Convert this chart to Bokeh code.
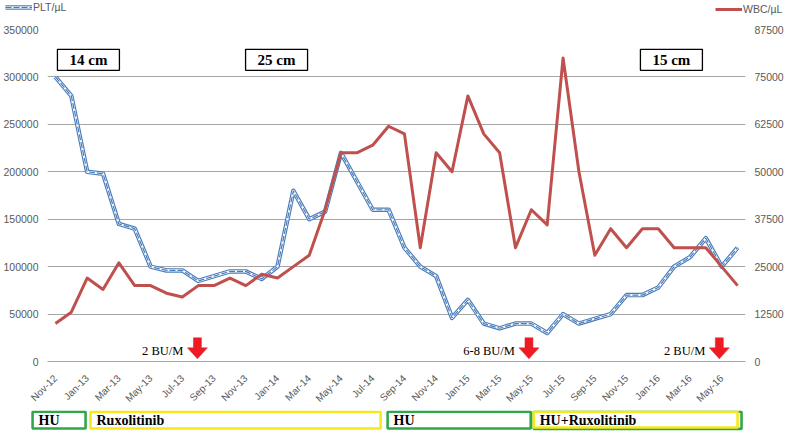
import math
from bokeh.plotting import figure
from bokeh.models import (Range1d, LinearAxis, FixedTicker, NumeralTickFormatter,
                          Legend, LegendItem, ColumnDataSource)
from bokeh.layouts import column, row
from bokeh.embed import file_html
from bokeh.resources import INLINE
from bokeh.core.properties import value

# ---------------- data ----------------
months = ["Nov-12", "Dec-12",
          "Jan-13", "Feb-13", "Mar-13", "Apr-13", "May-13", "Jun-13",
          "Jul-13", "Aug-13", "Sep-13", "Oct-13", "Nov-13", "Dec-13",
          "Jan-14", "Feb-14", "Mar-14", "Apr-14", "May-14", "Jun-14",
          "Jul-14", "Aug-14", "Sep-14", "Oct-14", "Nov-14", "Dec-14",
          "Jan-15", "Feb-15", "Mar-15", "Apr-15", "May-15", "Jun-15",
          "Jul-15", "Aug-15", "Sep-15", "Oct-15", "Nov-15", "Dec-15",
          "Jan-16", "Feb-16", "Mar-16", "Apr-16", "May-16", "Jun-16"]

plt_values = [300000, 280000, 200000, 198000, 145000, 140000, 100000, 96000,
              96000, 85000, 90000, 95000, 95000, 87000, 100000, 180000,
              150000, 158000, 220000, 190000, 160000, 160000, 120000, 100000,
              90000, 46000, 65000, 40000, 35000, 40000, 40000, 30000,
              50000, 40000, 45000, 50000, 70000, 70000, 78000, 100000,
              110000, 130000, 100000, 120000]

wbc_values = [10000, 13000, 22000, 19000, 26000, 20000, 20000, 18000,
              17000, 20000, 20000, 22000, 20000, 23000, 22000, 25000,
              28000, 40000, 55000, 55000, 57000, 62000, 60000, 30000,
              55000, 50000, 70000, 60000, 55000, 30000, 40000, 36000,
              80000, 50000, 28000, 35000, 30000, 35000, 35000, 30000,
              30000, 30000, 25000, 20000]

plt_ticks = [0, 50000, 100000, 150000, 200000, 250000, 300000, 350000]
wbc_ticks = [0, 12500, 25000, 37500, 50000, 62500, 75000, 87500]

series_names = ["PLT/µL", "WBC/µL"]

size_labels = ["14 cm", "25 cm", "15 cm"]
size_label_at = [2.08, 13.94, 38.83]          # position along the month axis
size_label_level = 318000                     # PLT-axis level

dose_labels = ["2 BU/M", "6-8 BU/M", "2 BU/M"]
dose_at = [8.95, 29.85, 41.85]                # month-axis position of arrows

treatments = ["HU", "Ruxolitinib", "HU", "HU+Ruxolitinib"]
treat_start = [-1.44, 2.21, 20.94, 30.15]
treat_end = [1.90, 20.50, 29.96, 43.00]

# ---------------- layout constants ----------------
W = 787
H_TOP, H_STRIP = 22, 23
FL, FR, FT, FH, FB = 47, 42, 7, 333, 48
H_MAIN = FT + FH + FB
GRID = "#a6a6a6"
TXT = "#595959"
BLUE = "#4A7DBA"
RED = "#C0504D"
ARROW_RED = "#ED1C24"
GREEN = "#2EA94A"
YELLOW = "#F7E81E"
treat_colors = [GREEN, YELLOW, GREEN, YELLOW]

x = list(range(len(months)))
x_lo, x_hi = -0.5, len(months) - 0.5
pxx = (W - FL - FR) / (x_hi - x_lo)          # px per month

blue_styles = [dict(line_color=BLUE, line_width=4.5, line_join="round"),
               dict(line_color="white", line_width=2.2, line_join="round"),
               dict(line_color=BLUE, line_width=1.2, line_dash="6 2")]
red_style = dict(line_color=RED, line_width=3, line_join="round")

# ---------------- legend strip (top) ----------------
t = figure(width=W, height=H_TOP, x_range=Range1d(0, 1), y_range=Range1d(0, 1),
           x_axis_location=None, y_axis_location=None, toolbar_location=None,
           output_backend="svg", min_border=0,
           background_fill_color="white", border_fill_color="white")
t.outline_line_color = None
t.grid.visible = False
off = [-5, -5]   # legend-sample renderers kept outside the visible range
lb = [t.line(x=off, y=off, **st) for st in blue_styles]
lr = t.line(x=off, y=off, **red_style)
leg_common = dict(background_fill_alpha=0, border_line_alpha=0,
                  label_text_font="Liberation Sans", label_text_font_size="10.5px",
                  label_text_color=TXT, padding=0, margin=0, label_height=12,
                  glyph_height=12, label_standoff=1, spacing=0, glyph_width=27)
leg1 = Legend(items=[LegendItem(label=series_names[0], renderers=lb)],
              location=(5, H_TOP - 13), **leg_common)
leg2 = Legend(items=[LegendItem(label=series_names[1], renderers=[lr])],
              location=(715, H_TOP - 15), **leg_common)
t.add_layout(leg1, "center")
t.add_layout(leg2, "center")

# ---------------- main chart ----------------
p = figure(width=W, height=H_MAIN, x_range=Range1d(x_lo, x_hi),
           y_range=Range1d(0, 350000), output_backend="svg",
           toolbar_location=None, min_border_left=FL, min_border_right=FR,
           min_border_top=FT, min_border_bottom=FB,
           background_fill_color="white", border_fill_color="white")
p.outline_line_color = None
p.extra_y_ranges = {"wbc": Range1d(0, 87500)}


def style(ax, standoff, size="10.5px"):
    ax.axis_line_color = None
    ax.major_tick_line_color = None
    ax.minor_tick_line_color = None
    ax.major_tick_out = 0
    ax.major_tick_in = 0
    ax.minor_tick_out = 0
    ax.major_label_text_font = "Liberation Sans"
    ax.major_label_text_font_size = size
    ax.major_label_text_color = TXT
    ax.major_label_standoff = standoff


yl = p.yaxis[0]
yl.ticker = FixedTicker(ticks=plt_ticks)
yl.formatter = NumeralTickFormatter(format="0")
style(yl, 9)

yr = LinearAxis(y_range_name="wbc", ticker=FixedTicker(ticks=wbc_ticks),
                formatter=NumeralTickFormatter(format="0"))
style(yr, 9)
p.add_layout(yr, "right")

xa = p.xaxis[0]
xa.ticker = FixedTicker(ticks=x[::2])
xa.major_label_overrides = {i: months[i] for i in x[::2]}
xa.major_label_orientation = math.pi / 4
style(xa, 15, "10px")
xa.axis_line_color = GRID

p.xgrid.visible = False
p.ygrid.ticker = FixedTicker(ticks=plt_ticks)
p.ygrid.grid_line_color = GRID
p.ygrid.grid_line_width = 1

src = ColumnDataSource(dict(x=x, plt=plt_values, wbc=wbc_values))
for st in blue_styles:
    p.line("x", "plt", source=src, **st)
p.line("x", "wbc", source=src, y_range_name="wbc", **red_style)

# size boxes
p.rect(x=size_label_at, y=[size_label_level] * 3, width=62, height=21,
       width_units="screen", height_units="screen", fill_color="white",
       line_color="black", line_width=1.3)
p.text(x=size_label_at, y=[size_label_level] * 3, text=size_labels,
       text_align="center", text_baseline="middle",
       text_font=value("Liberation Serif"), text_font_style="bold",
       text_font_size="15px", text_color="black")

# dose labels + arrows
p.text(x=[a - 14 / pxx for a in dose_at], y=[10700] * 3, text=dose_labels,
       text_align="right", text_baseline="middle",
       text_font=value("Liberation Serif"), text_font_size="12.5px",
       text_color="black")
ARROW_TOP, SHAFT_END, TIP = 25000, 14400, 2800
sh, hh = 4 / pxx, 10 / pxx
xs = [[a - sh, a + sh, a + sh, a + hh, a, a - hh, a - sh] for a in dose_at]
ys = [[ARROW_TOP, ARROW_TOP, SHAFT_END, SHAFT_END, TIP, SHAFT_END, SHAFT_END]
      for _ in dose_at]
p.patches(xs, ys, fill_color=ARROW_RED, line_color=ARROW_RED, line_width=0.5)

# ---------------- treatment strip (bottom) ----------------
s = figure(width=W, height=H_STRIP,
           x_range=Range1d(x_lo - FL / pxx, x_hi + FR / pxx),
           y_range=Range1d(0, H_STRIP), x_axis_location=None,
           y_axis_location=None, toolbar_location=None, output_backend="svg",
           min_border=0, background_fill_color="white", border_fill_color="white")
s.outline_line_color = None
s.grid.visible = False
s.quad(left=[treat_start[3]], right=[treat_end[3] + 0.25], top=[21.7], bottom=[4.6],
       fill_alpha=0, line_color=GREEN, line_width=2.6)
s.quad(left=treat_start, right=treat_end, top=[21.7] * 4, bottom=[5.0, 5.0, 5.0, 6.0],
       fill_color="white", line_color=treat_colors, line_width=2.6)
s.text(x=[st + 6 / pxx for st in treat_start], y=[13.2] * 4, text=treatments,
       text_align="left", text_baseline="middle",
       text_font=value("Liberation Serif"), text_font_style="bold",
       text_font_size="14px", text_color="black")

layout = column(row(t, spacing=0), row(p, spacing=0), row(s, spacing=0), spacing=0)
open("out.html", "w").write(file_html(layout, INLINE))
